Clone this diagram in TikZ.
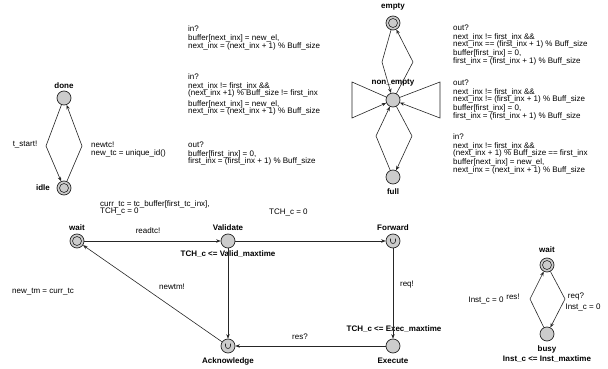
\documentclass[tikz,border=0pt]{standalone}
\usepackage{fontspec}
\setmainfont{Liberation Sans}
\usetikzlibrary{arrows.meta}
\begin{document}
\begin{tikzpicture}[x=1pt,y=-1pt,
  loc/.style={circle,draw=black!85,fill=black!20,minimum size=14pt,inner sep=0pt,line width=0.7pt},
  edge/.style={draw=black!85,line width=0.6pt,-{Stealth[length=4.5pt,width=3.5pt]}},
  sname/.style={font=\fontsize{8}{8}\selectfont\bfseries,inner sep=0pt},
  lbl/.style={font=\fontsize{8}{7.5}\selectfont,inner sep=0pt,align=left,anchor=west},
  clbl/.style={font=\fontsize{8}{8}\selectfont,inner sep=0pt}]
\useasboundingbox (0,0) rectangle (608,369);

% ---------- left model: done / idle ----------
\node[loc] (done) at (64,98) {};
\node[loc] (idle) at (64,188) {};
\draw[black!85,line width=0.6pt] (idle) circle (4.5pt);
\node[sname] (ldone) at (64,86) {done};
\node[sname] (lidle) at (43,188) {idle};
\coordinate (dl) at (46,146);
\coordinate (dr) at (82,146);
\draw[edge] (done) -- (dl) -- (idle);
\draw[edge] (idle) -- (dr) -- (done);
\node[clbl] (tstart) at (25,145) {t\_start!};
\node[lbl] (newtc) at (91,145) {newtc!};
\node[lbl] (newtcu) at (91,153) {new\_tc = unique\_id()};

% ---------- middle labels ----------
\node[lbl] (a1) at (188,29) {in?};
\node[lbl] (a2) at (188,42.5) {buffer[next\_inx] = new\_el,\\next\_inx = (next\_inx + 1) \% Buff\_size};
\node[lbl] (b1) at (188,77) {in?};
\node[lbl] (b2) at (188,90) {next\_inx != first\_inx \&\&\\(next\_inx +1) \% Buff\_size != first\_inx};
\node[lbl] (b3) at (188,108) {buffer[next\_inx] = new\_el,\\next\_inx = (next\_inx + 1) \% Buff\_size};
\node[lbl] (c1) at (188,145) {out?};
\node[lbl] (c2) at (188,158) {buffer[first\_inx] = 0,\\first\_inx = (first\_inx + 1) \% Buff\_size};

% ---------- buffer model ----------
\node[loc] (empty) at (393,23) {};
\draw[black!85,line width=0.6pt] (empty) circle (4.5pt);
\node[loc] (nonempty) at (393,100) {};
\node[loc] (full) at (393,177) {};
\node[sname] (lempty) at (393,7) {empty};
\node[sname] (lnonempty) at (393,83) {non\_empty};
\node[sname] (lfull) at (393,192) {full};
\coordinate (ul) at (382,62);
\coordinate (ur) at (413,62);
\coordinate (bl) at (376,136);
\coordinate (br) at (412,136);
\coordinate (ll1) at (352,82);
\coordinate (ll2) at (352,118);
\coordinate (rl1) at (440,82);
\coordinate (rl2) at (440,118);
\draw[edge] (empty) -- (ul) -- (nonempty);
\draw[edge] (nonempty) -- (ur) -- (empty);
\draw[edge] (nonempty) -- (ll1) -- (ll2) -- (nonempty);
\draw[edge] (nonempty) -- (rl1) -- (rl2) -- (nonempty);
\draw[edge] (full) -- (bl) -- (nonempty);
\draw[edge] (nonempty) -- (br) -- (full);

\node[lbl] (r11) at (453,28) {out?};
\node[lbl] (r12) at (453,41) {next\_inx != first\_inx \&\&\\next\_inx == (first\_inx + 1) \% Buff\_size};
\node[lbl] (r13) at (453,57.5) {buffer[first\_inx] = 0,\\first\_inx = (first\_inx + 1) \% Buff\_size};
\node[lbl] (r21) at (453,83) {out?};
\node[lbl] (r22) at (453,96) {next\_inx != first\_inx \&\&\\next\_inx != (first\_inx + 1) \% Buff\_size};
\node[lbl] (r23) at (453,112.5) {buffer[first\_inx] = 0,\\first\_inx = (first\_inx + 1) \% Buff\_size};
\node[lbl] (r31) at (453,137) {in?};
\node[lbl] (r32) at (453,150) {next\_inx != first\_inx \&\&\\(next\_inx + 1) \% Buff\_size == first\_inx};
\node[lbl] (r33) at (453,166.5) {buffer[next\_inx] = new\_el,\\next\_inx = (next\_inx + 1) \% Buff\_size};

% ---------- TC model ----------
\node[loc] (wait) at (77,241) {};
\draw[black!85,line width=0.6pt] (wait) circle (4.5pt);
\node[loc] (validate) at (228,241) {};
\node[loc] (forward) at (393,241) {};
\node[loc] (execute) at (393,346) {};
\node[loc] (ack) at (228,346) {};
\foreach \n in {forward,ack}{
  \draw[black!85,line width=0.6pt] ([shift={(-2.5,-2.5)}]\n.center) -- ++(0,2.5) .. controls +(0,3.3) and +(0,3.3) .. ++(5,0) -- ++(0,-2.5);
}
\node[sname] (lwait) at (77,228) {wait};
\node[sname] (lvalidate) at (228,228) {Validate};
\node[sname] (lforward) at (393,228) {Forward};
\node[sname] (lexecute) at (393,361) {Execute};
\node[sname] (lack) at (228,361) {Acknowledge};
\node[sname] (ivalid) at (228,254) {TCH\_c <= Valid\_maxtime};
\node[sname] (iexec) at (394,329) {TCH\_c <= Exec\_maxtime};

\draw[edge] (wait) -- (validate);
\draw[edge] (validate) -- (forward);
\draw[edge] (forward) -- (execute);
\draw[edge] (execute) -- (ack);
\draw[edge] (validate) -- (ack);
\draw[edge] (ack) -- (wait);

\node[lbl] (cu) at (100,208) {curr\_tc = tc\_buffer[first\_tc\_inx],\\TCH\_c = 0};
\node[lbl] (tch) at (269,213) {TCH\_c = 0};
\node[clbl] (readtc) at (148,231) {readtc!};
\node[clbl] (newtm) at (172,287) {newtm!};
\node[lbl] (newtmu) at (12,292) {new\_tm = curr\_tc};
\node[clbl] (req) at (407,285) {req!};
\node[clbl] (res) at (300,337) {res?};

% ---------- instrument model ----------
\node[loc] (wait2) at (547,265) {};
\draw[black!85,line width=0.6pt] (wait2) circle (4.5pt);
\node[loc] (busy) at (547,334) {};
\node[sname] (lwait2) at (547,250) {wait};
\node[sname] (lbusy) at (547,349) {busy};
\node[sname] (ibusy) at (547,359) {Inst\_c <= Inst\_maxtime};
\coordinate (il) at (530,299);
\coordinate (ir) at (565,299);
\draw[edge] (busy) -- (il) -- (wait2);
\draw[edge] (wait2) -- (ir) -- (busy);
\node[clbl] (resx) at (513,297) {res!};
\node[clbl] (instl) at (486,300) {Inst\_c = 0};
\node[clbl] (reqx) at (576,297) {req?};
\node[clbl] (instr) at (583,307) {Inst\_c = 0};
\end{tikzpicture}
\end{document}
